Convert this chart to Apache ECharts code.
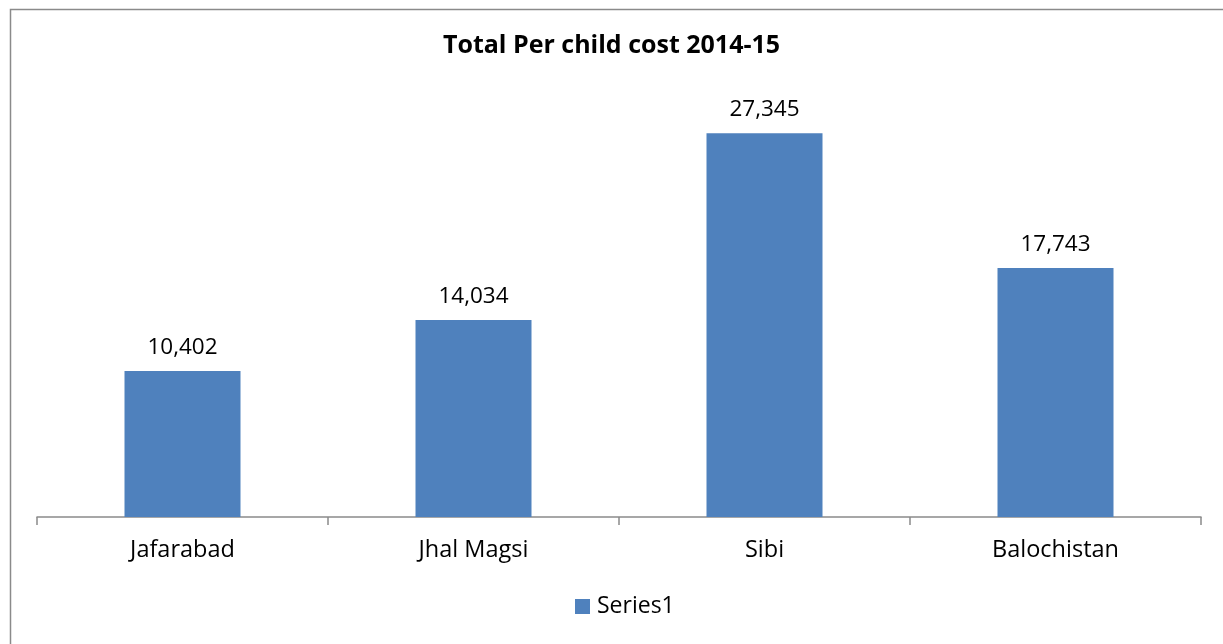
<!DOCTYPE html>
<html><head><meta charset="utf-8">
<script src="https://cdn.jsdelivr.net/npm/echarts@6/dist/echarts.min.js"></script>
<style>html,body{margin:0;padding:0;background:#fff}#c{width:1223px;height:644px}</style>
</head><body><div id="c"></div>
<script>
const categories = ['Jafarabad', 'Jhal Magsi', 'Sibi', 'Balochistan'];
const series1 = [10402, 14034, 27345, 17743];
const chartTitle = 'Total Per child cost 2014-15';
const seriesName = 'Series1';

const chart = echarts.init(document.getElementById('c'));
const FONT = '"Open Sans", "Noto Sans", sans-serif';
chart.setOption({
  animation: false,
  backgroundColor: '#fff',
  graphic: [{
    type: 'rect', left: 8, top: 7, silent: true,
    shape: { width: 1300, height: 700 },
    style: { fill: 'none', stroke: '#8a8a8a', lineWidth: 1.5 }
  }],
  title: {
    text: chartTitle, left: 'center', top: 28,
    textStyle: { fontFamily: FONT, fontWeight: 'bold', fontSize: 25, color: '#000' }
  },
  legend: {
    bottom: 21, left: 570,
    itemWidth: 15, itemHeight: 15, itemGap: 6,
    icon: 'rect',
    textStyle: { fontFamily: FONT, fontSize: 23, color: '#000', padding: [0,0,0,2] },
    data: [seriesName]
  },
  grid: { left: 37, right: 22, top: 96, bottom: 127 },
  xAxis: {
    type: 'category', data: categories,
    axisLine: { lineStyle: { color: '#8a8a8a', width: 1.5 } },
    axisTick: { show: true, length: 8, lineStyle: { color: '#8a8a8a', width: 1.5 } },
    axisLabel: { fontFamily: FONT, fontSize: 23.5, color: '#000', margin: 21 }
  },
  yAxis: {
    type: 'value', min: 0, max: 30000, show: false,
    splitLine: { show: false }
  },
  series: [{
    name: seriesName, type: 'bar', data: series1, barWidth: 116,
    itemStyle: { color: '#4F81BD' },
    label: {
      show: true, position: 'top', distance: 12,
      fontFamily: FONT, fontSize: 22.5, color: '#000',
      formatter: p => p.value.toLocaleString('en-US')
    }
  }]
});
</script></body></html>
